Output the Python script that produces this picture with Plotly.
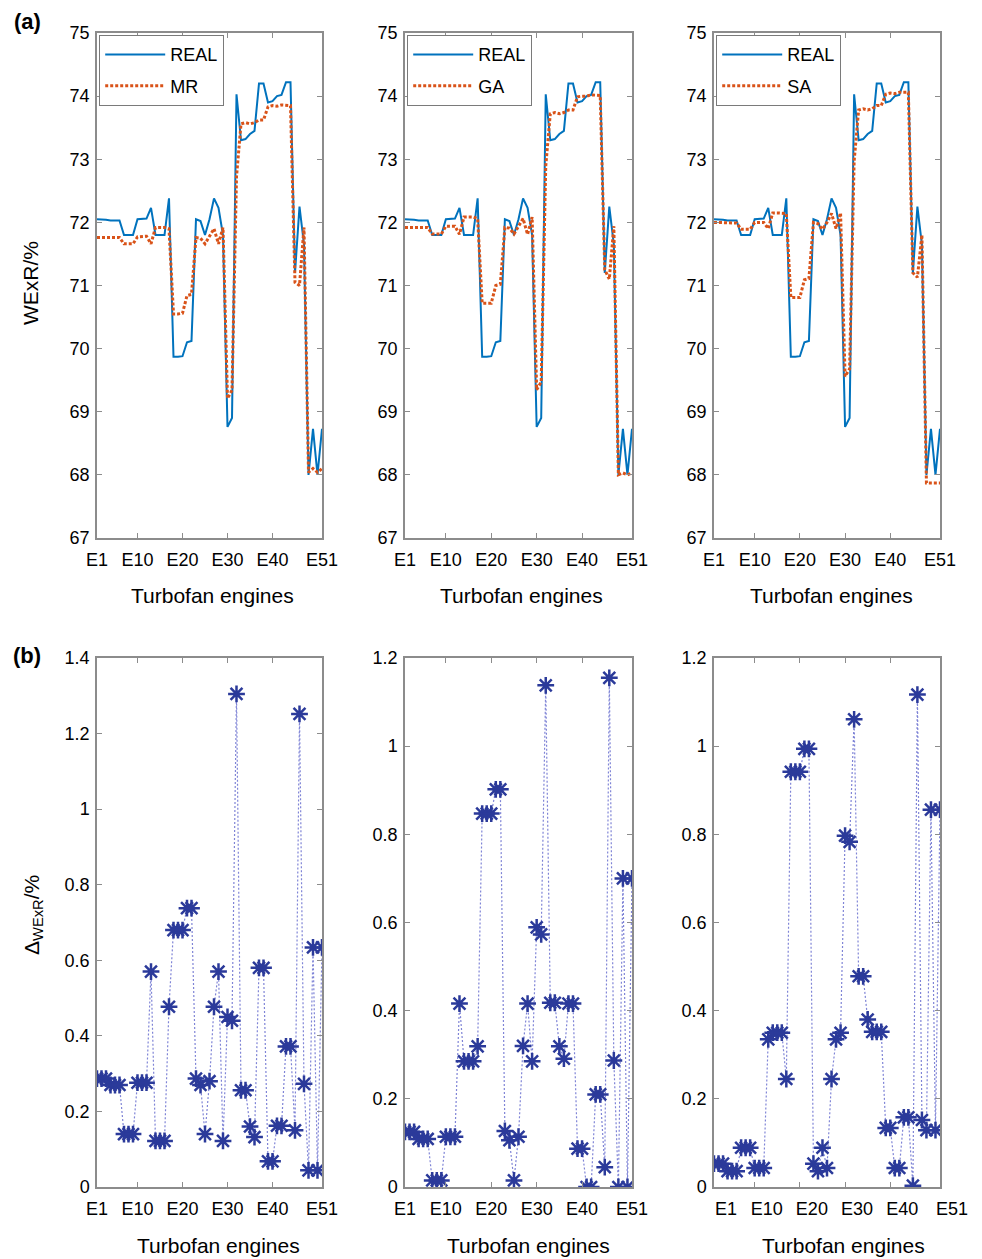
import plotly.graph_objects as go

W, H = 982, 1259

engines = list(range(1, 52))
tick_vals = [1, 10, 20, 30, 40, 51]
tick_text = ["E1", "E10", "E20", "E30", "E40", "E51"]

real = [72.05, 72.05, 72.04, 72.03, 72.03, 72.03, 71.80, 71.80, 71.80, 72.05,
        72.05, 72.06, 72.23, 71.80, 71.80, 71.80, 72.38, 69.87, 69.87, 69.88,
        70.10, 70.12, 72.05, 72.02, 71.80, 72.05, 72.38, 72.23, 71.80, 68.76,
        68.90, 74.03, 73.30, 73.32, 73.40, 73.45, 74.20, 74.20, 73.90, 73.92,
        74.00, 74.02, 74.22, 74.22, 71.20, 72.25, 71.65, 68.00, 68.73, 68.00,
        68.73]

mr = [71.76, 71.76, 71.76, 71.76, 71.76, 71.76, 71.66, 71.66, 71.66, 71.77,
      71.77, 71.78, 71.66, 71.92, 71.92, 71.92, 71.90, 70.55, 70.55, 70.56,
      70.84, 70.86, 71.76, 71.75, 71.66, 71.77, 71.90, 71.66, 71.92, 69.21,
      69.34, 72.72, 73.56, 73.58, 73.56, 73.58, 73.62, 73.62, 73.83, 73.85,
      73.84, 73.86, 73.85, 73.85, 71.05, 71.00, 71.92, 68.04, 68.10, 68.04,
      68.10]

ga = [71.92, 71.92, 71.92, 71.92, 71.92, 71.92, 71.815, 71.815, 71.815, 71.94,
      71.94, 71.94, 71.81, 72.085, 72.085, 72.085, 72.06, 70.72, 70.72, 70.72,
      71.00, 71.02, 71.92, 71.91, 71.815, 71.94, 72.06, 71.81, 72.085, 69.35,
      69.47, 72.89, 73.72, 73.74, 73.72, 73.74, 73.78, 73.78, 73.99, 74.00,
      74.00, 74.02, 74.01, 74.01, 71.25, 71.10, 71.94, 68.00, 68.03, 68.00,
      68.03]

sa = [72.00, 72.00, 72.00, 71.99, 71.99, 71.99, 71.89, 71.89, 71.89, 72.00,
      72.00, 72.00, 71.90, 72.15, 72.15, 72.15, 72.14, 70.81, 70.81, 70.81,
      71.09, 71.11, 72.00, 71.98, 71.89, 72.00, 72.14, 71.90, 72.15, 69.56,
      69.68, 72.97, 73.78, 73.80, 73.78, 73.80, 73.85, 73.85, 74.03, 74.05,
      74.04, 74.06, 74.06, 74.06, 71.20, 71.13, 71.80, 67.87, 67.87, 67.87,
      67.87]

d_mr = [0.287, 0.287, 0.287, 0.27, 0.27, 0.27, 0.14, 0.14, 0.14, 0.276,
        0.276, 0.276, 0.57, 0.122, 0.122, 0.122, 0.477, 0.68, 0.68, 0.68,
        0.738, 0.738, 0.287, 0.27, 0.14, 0.28, 0.477, 0.57, 0.122, 0.45,
        0.44, 1.305, 0.256, 0.256, 0.16, 0.132, 0.58, 0.58, 0.068, 0.068,
        0.162, 0.162, 0.372, 0.372, 0.15, 1.252, 0.273, 0.044, 0.634, 0.044,
        0.634]

d_ga = [0.125, 0.125, 0.125, 0.109, 0.109, 0.109, 0.015, 0.015, 0.015, 0.114,
        0.114, 0.114, 0.416, 0.285, 0.285, 0.285, 0.319, 0.847, 0.847, 0.847,
        0.902, 0.902, 0.127, 0.106, 0.015, 0.114, 0.32, 0.416, 0.285, 0.589,
        0.573, 1.138, 0.418, 0.418, 0.319, 0.291, 0.416, 0.416, 0.087, 0.087,
        0.0, 0.0, 0.21, 0.21, 0.045, 1.155, 0.287, 0.0, 0.7, 0.0,
        0.7]

d_sa = [0.053, 0.053, 0.053, 0.036, 0.036, 0.036, 0.089, 0.089, 0.089, 0.043,
        0.043, 0.043, 0.335, 0.35, 0.35, 0.35, 0.245, 0.942, 0.942, 0.942,
        0.994, 0.994, 0.053, 0.036, 0.089, 0.043, 0.245, 0.335, 0.35, 0.797,
        0.783, 1.061, 0.478, 0.478, 0.38, 0.352, 0.352, 0.352, 0.134, 0.134,
        0.043, 0.043, 0.158, 0.158, 0.003, 1.117, 0.152, 0.129, 0.856, 0.129,
        0.856]

methods = ["MR", "GA", "SA"]
preds = [mr, ga, sa]
deltas = [d_mr, d_ga, d_sa]
delta_max = [1.4, 1.2, 1.2]

FONT = "Liberation Sans, Arial, Helvetica, sans-serif"
BLUE = "#0072BD"
ORANGE = "#D95319"
STAR = "#2b3a9a"
DOTLINE = "#7f84d6"
FRAME = "#8c8c8c"

# pixel layout (from reference)
col_px = [(97, 322), (405, 632), (714, 940)]
top_px = (33, 538)
bot_px = (658, 1187)


def px_x(a, b):
    return [a / W, b / W]


def px_y(top, bottom):
    return [1 - bottom / H, 1 - top / H]


fig = go.Figure()

for c in range(3):
    xa_top = c + 1
    xa_bot = c + 4
    leg = "legend" if c == 0 else f"legend{c + 1}"
    fig.add_trace(go.Scatter(
        x=engines, y=real, mode="lines", name="REAL",
        line=dict(color=BLUE, width=2), legendgroup=f"real{c}",
        xaxis=f"x{xa_top}", yaxis=f"y{xa_top}", legend=leg))
    fig.add_trace(go.Scatter(
        x=engines, y=preds[c], mode="lines", name=methods[c],
        line=dict(color=ORANGE, width=3, dash="3px,2px"), legendgroup=f"pred{c}",
        xaxis=f"x{xa_top}", yaxis=f"y{xa_top}", legend=leg))
    fig.add_trace(go.Scatter(
        x=engines, y=deltas[c], mode="lines+markers", showlegend=False,
        line=dict(color=DOTLINE, width=1.2, dash="2px,2px"),
        marker=dict(symbol="asterisk-open", size=14,
                    line=dict(color=STAR, width=2.5), color=STAR),
        xaxis=f"x{xa_bot}", yaxis=f"y{xa_bot}"))

axis_common = dict(
    showline=True, linecolor=FRAME, linewidth=1.5, mirror="ticks",
    ticks="inside", ticklen=5, tickcolor=FRAME, tickwidth=1,
    showgrid=False, zeroline=False, automargin=False,
    tickfont=dict(family=FONT, size=18, color="#000"),
)

layout = {}
for c in range(3):
    xa, xb = col_px[c]
    # top row
    i = c + 1
    layout[f"xaxis{i}"] = dict(axis_common, domain=px_x(xa, xb), anchor=f"y{i}",
                               range=[1, 51], tickvals=tick_vals, ticktext=tick_text,
                               ticklabelstandoff=5)
    layout[f"yaxis{i}"] = dict(axis_common, domain=px_y(*top_px), anchor=f"x{i}",
                               range=[67, 75], dtick=1, tick0=67,
                               ticklabelstandoff=2)
    # bottom row
    j = c + 4
    layout[f"xaxis{j}"] = dict(axis_common, domain=px_x(xa, xb), anchor=f"y{j}",
                               range=[1, 51], tickvals=tick_vals, ticktext=tick_text,
                               ticklabelstandoff=5,
                               ticklabelshift=(12 if c == 2 else 0))
    layout[f"yaxis{j}"] = dict(axis_common, domain=px_y(*bot_px), anchor=f"x{j}",
                               range=[0, delta_max[c]], dtick=0.2, tick0=0,
                               ticklabelstandoff=2)

legend_common = dict(
    xanchor="left", yanchor="top",
    bgcolor="white", bordercolor="#7a7a7a", borderwidth=1.2,
    font=dict(family=FONT, size=18, color="#000"),
    tracegroupgap=5, itemwidth=60, traceorder="grouped",
)
for c in range(3):
    key = "legend" if c == 0 else f"legend{c + 1}"
    layout[key] = dict(legend_common, x=(col_px[c][0] + 2) / W, y=1 - 35 / H)

annotations = []


def ann(text, x, y, size=21, bold=False, angle=0):
    annotations.append(dict(
        text=f"<b>{text}</b>" if bold else text,
        x=x / W, y=1 - y / H, xref="paper", yref="paper",
        showarrow=False, textangle=angle,
        xanchor="center", yanchor="middle",
        font=dict(family=FONT, size=size, color="#000")))


ann("(a)", 27, 22, size=22, bold=True)
ann("(b)", 27, 655, size=22, bold=True)
ann("WExR/%", 31, 283, size=21, angle=-90)
ann("\u0394<sub>WExR</sub>/%", 33, 915, size=21, angle=-90)
for cx in [212, 521, 831]:
    ann("Turbofan engines", cx, 595)
for cx in [218, 528, 843]:
    ann("Turbofan engines", cx, 1245)

fig.update_layout(
    width=W, height=H,
    margin=dict(l=0, r=0, t=0, b=0, autoexpand=False),
    paper_bgcolor="white", plot_bgcolor="white",
    showlegend=True,
    annotations=annotations,
    **layout,
)

fig.write_html(
    "out.html",
    config={"displayModeBar": False},
    post_script="document.body.style.margin='0px';document.body.style.padding='0px';",
)
